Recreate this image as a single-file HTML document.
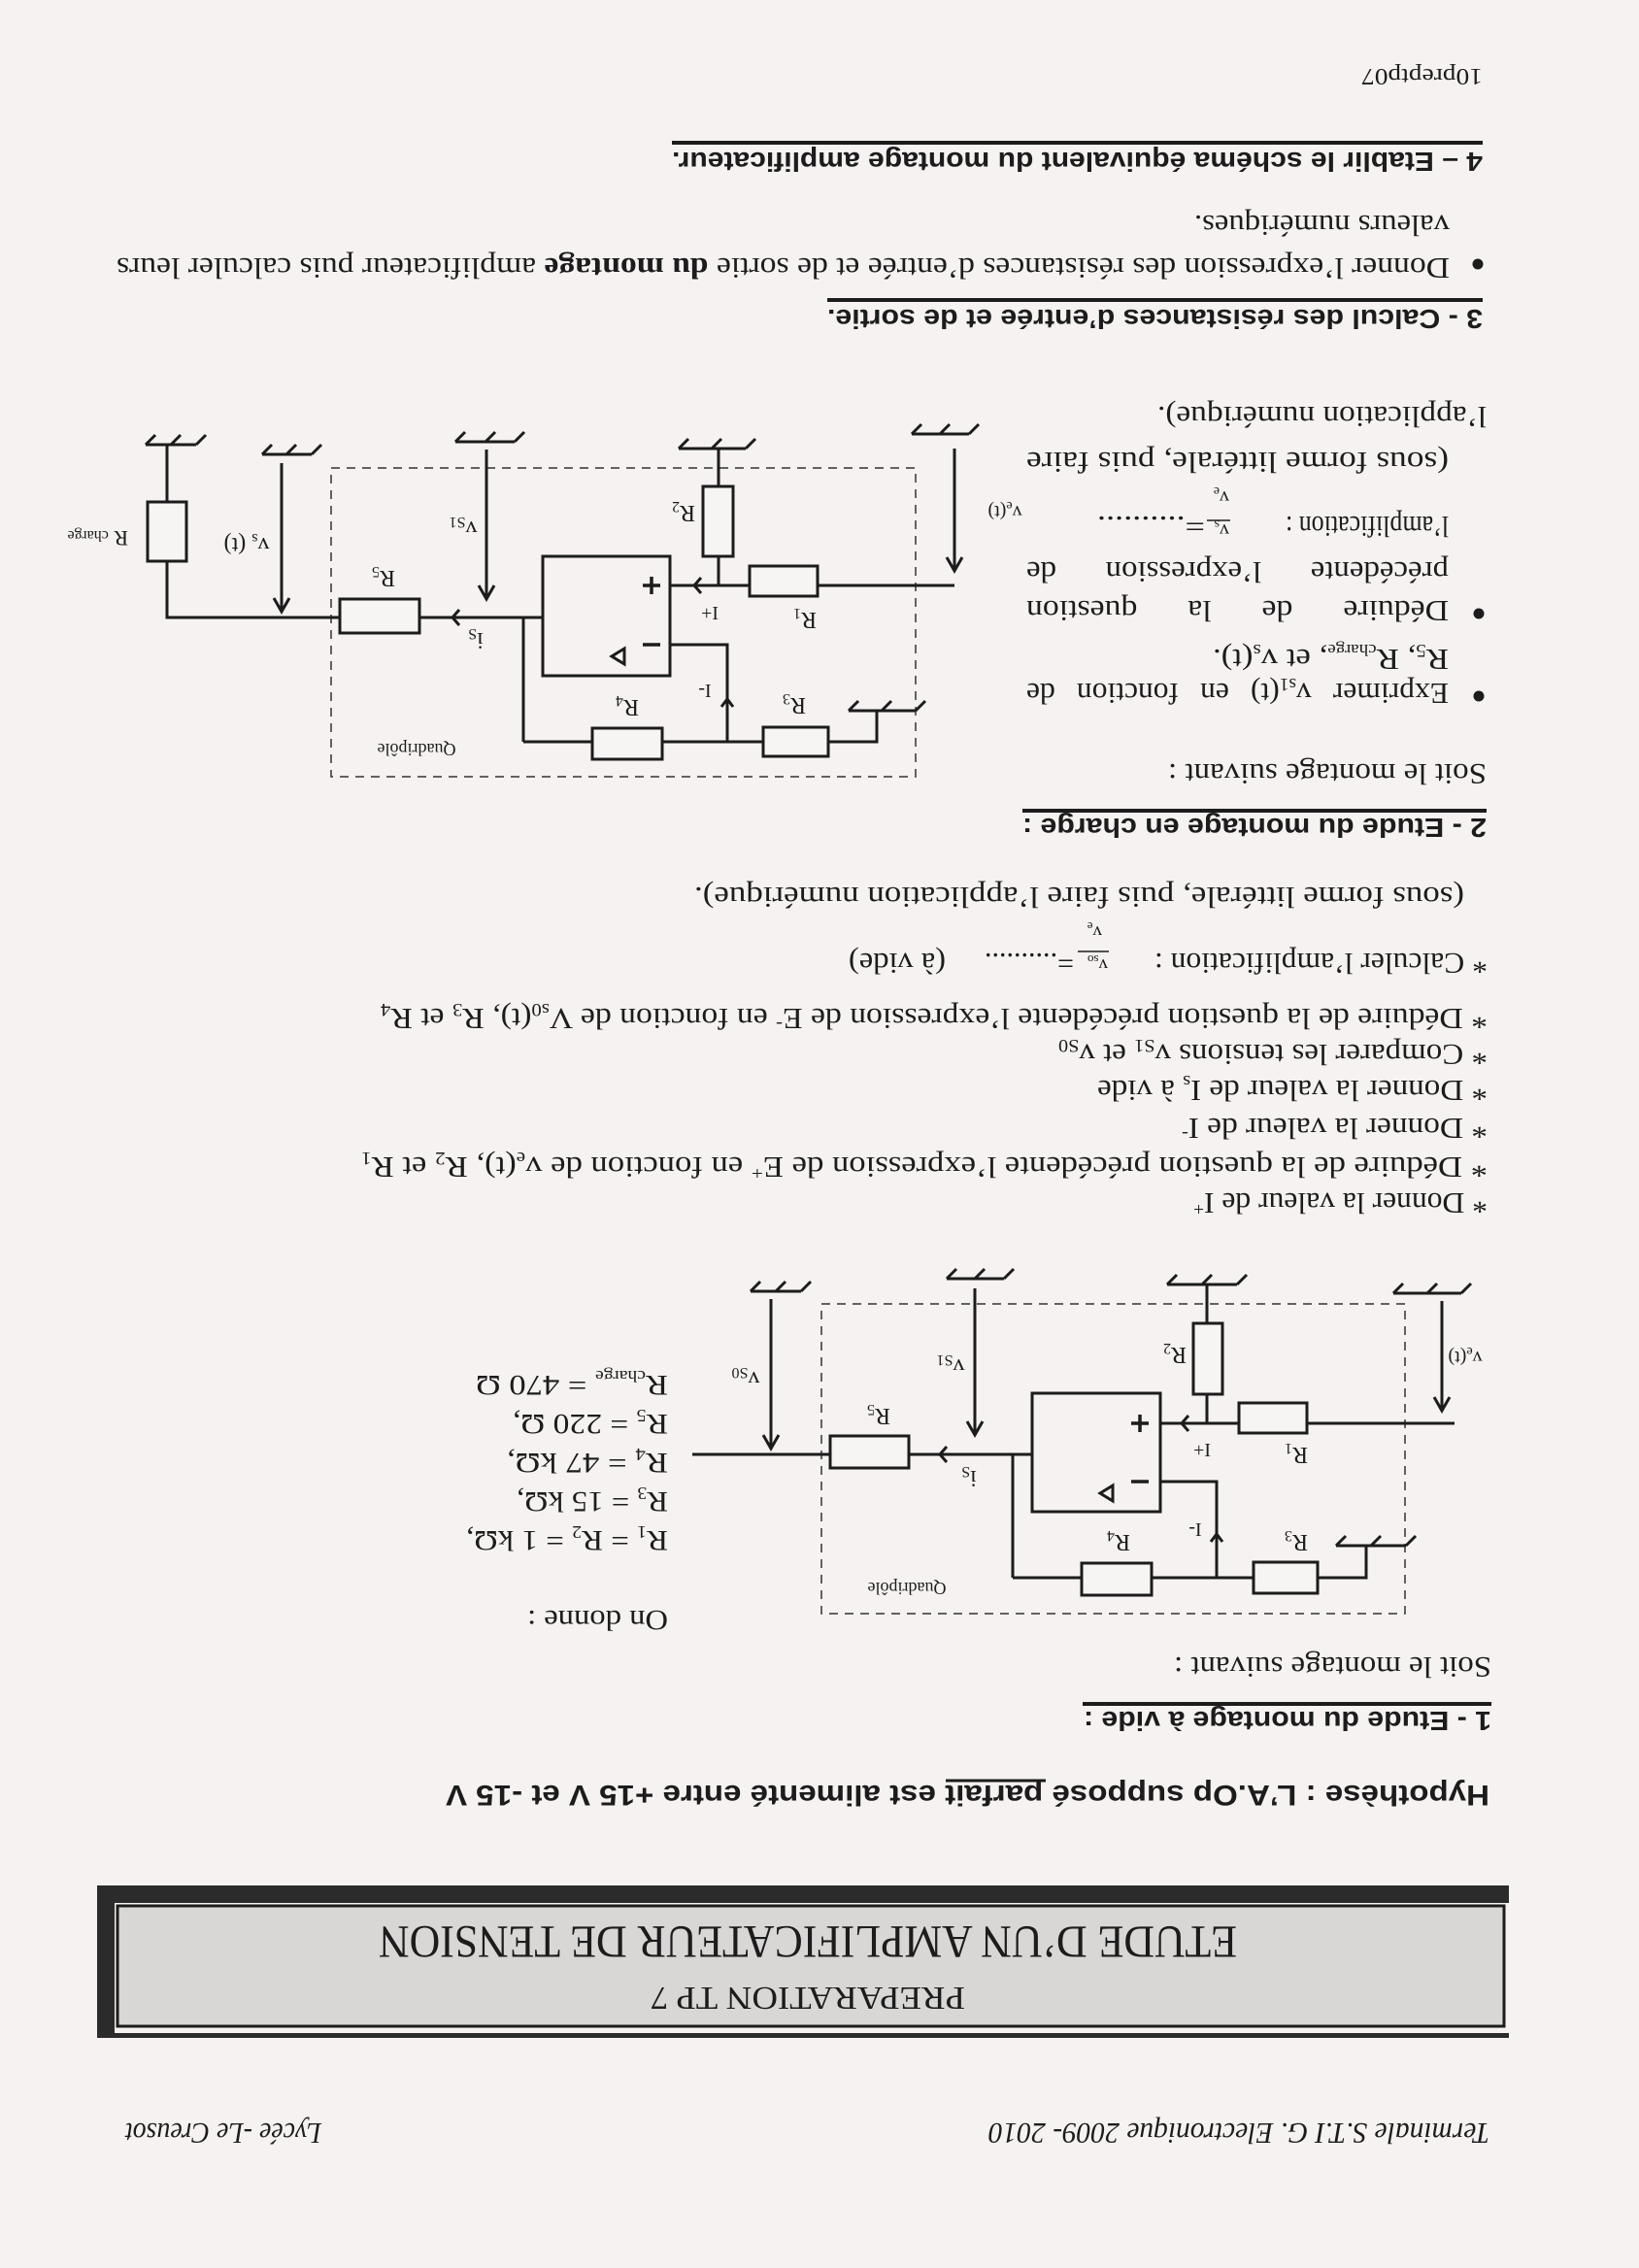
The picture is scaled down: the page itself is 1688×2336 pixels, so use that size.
<!DOCTYPE html>
<html><head><meta charset="utf-8">
<style>
html,body{margin:0;padding:0;background:#f5f2f1;}
svg{display:block}
.s{font-family:"Liberation Serif",serif;fill:#1c1c1c}
.h{font-family:"Liberation Sans",sans-serif;font-weight:bold;fill:#1c1c1c}
.i{font-family:"Liberation Serif",serif;font-style:italic;fill:#1c1c1c}
.w{stroke:#1c1c1c;stroke-width:3;fill:none}
.r{stroke:#1c1c1c;stroke-width:3;fill:#f7f5f4}
.d{stroke:#333;stroke-width:1.5;fill:none;stroke-dasharray:9 7}
</style></head><body>
<svg width="1688" height="2336" viewBox="0 0 1688 2336" xmlns="http://www.w3.org/2000/svg">
<rect width="1688" height="2336" fill="#f5f2f1"/>

<text class="s" x="1527" y="71" transform="rotate(180 1527 71)" font-size="24" textLength="125" lengthAdjust="spacingAndGlyphs">10preptp07</text>

<line x1="692" y1="147" x2="1527" y2="147" stroke="#1c1c1c" stroke-width="4"/>
<text class="h" x="1527" y="157" transform="rotate(180 1527 157)" font-size="28" textLength="835" lengthAdjust="spacingAndGlyphs">4 – Etablir le schéma équivalent du montage amplificateur.</text>

<text class="s" x="1493" y="222" transform="rotate(180 1493 222)" font-size="31" textLength="263" lengthAdjust="spacingAndGlyphs">valeurs numériques.</text>
<circle cx="1522" cy="272" r="5.5" fill="#1c1c1c"/>
<text class="s" x="1493" y="266" transform="rotate(180 1493 266)" font-size="31" textLength="1373" lengthAdjust="spacingAndGlyphs">Donner l’expression des résistances d’entrée et de sortie <tspan font-weight="bold">du montage</tspan> amplificateur puis calculer leurs</text>

<line x1="852" y1="309" x2="1527" y2="309" stroke="#1c1c1c" stroke-width="4"/>
<text class="h" x="1527" y="319" transform="rotate(180 1527 319)" font-size="28" textLength="675" lengthAdjust="spacingAndGlyphs">3 - Calcul des résistances d’entrée et de sortie.</text>

<text class="s" x="1531" y="419" transform="rotate(180 1531 419)" font-size="31" textLength="339" lengthAdjust="spacingAndGlyphs">l’application numérique).</text>
<text class="s" x="1492" y="466" transform="rotate(180 1492 466)" font-size="31" textLength="435" lengthAdjust="spacingAndGlyphs">(sous forme littérale, puis faire</text>

<text class="s" x="1492" y="532" transform="rotate(180 1492 532)" font-size="31" textLength="168" lengthAdjust="spacingAndGlyphs">l’amplification :</text>
<text class="s" x="1266" y="540" transform="rotate(180 1266 540)" font-size="20">v<tspan font-size="14" dy="4">s</tspan></text>
<line x1="1243" y1="536" x2="1267" y2="536" stroke="#1c1c1c" stroke-width="1.5"/>
<text class="s" x="1266" y="506" transform="rotate(180 1266 506)" font-size="20">v<tspan font-size="14" dy="4">e</tspan></text>
<text class="s" x="1241" y="532" transform="rotate(180 1241 532)" font-size="31" textLength="111" lengthAdjust="spacingAndGlyphs">=..........</text>

<text class="s" x="1492" y="579" transform="rotate(180 1492 579)" font-size="31" textLength="435" lengthAdjust="spacingAndGlyphs" word-spacing="40">précédente l’expression de</text>
<circle cx="1523" cy="632" r="5.5" fill="#1c1c1c"/>
<text class="s" x="1492" y="619" transform="rotate(180 1492 619)" font-size="31" textLength="435" lengthAdjust="spacingAndGlyphs" word-spacing="40">Déduire de la question</text>
<text class="s" x="1492" y="669" transform="rotate(180 1492 669)" font-size="31" textLength="243" lengthAdjust="spacingAndGlyphs">R<tspan font-size="19" dy="5">5</tspan><tspan dy="-5">, R</tspan><tspan font-size="17" dy="5">charge</tspan><tspan dy="-5">, et v</tspan><tspan font-size="19" dy="5">s</tspan><tspan dy="-5">(t).</tspan></text>
<circle cx="1523" cy="717" r="5.5" fill="#1c1c1c"/>
<text class="s" x="1492" y="704" transform="rotate(180 1492 704)" font-size="31" textLength="435" lengthAdjust="spacingAndGlyphs" word-spacing="14">Exprimer v<tspan font-size="19" dy="5">s1</tspan><tspan dy="-5">(t) en fonction de</tspan></text>

<text class="s" x="1531" y="787" transform="rotate(180 1531 787)" font-size="31" textLength="328" lengthAdjust="spacingAndGlyphs">Soit le montage suivant :</text>
<line x1="1053" y1="835" x2="1531" y2="835" stroke="#1c1c1c" stroke-width="4"/>
<text class="h" x="1531" y="843" transform="rotate(180 1531 843)" font-size="28" textLength="478" lengthAdjust="spacingAndGlyphs">2 - Etude du montage en charge :</text>

<!-- CIRCUIT 2 -->
<rect class="d" x="341" y="482" width="602" height="318"/>
<g class="w">
  <path d="M939 447 H998 M939 447 l10 -10 M968 447 l10 -10 M998 447 l10 -10"/>
  <path d="M983 462 V588 M975 574 L983 588 L991 574"/>
  <path d="M983 603 H842 M772 603 H690"/>
  <path d="M740 603 V573 M740 501 V462 M699 462 H768 M699 462 l10 -10 M733 462 l10 -10 M768 462 l10 -10"/>
  <path d="M722 595 L715 603 L722 611"/>
  <path d="M690 664 H749 V764 M743 728 L749 720 L755 728"/>
  <path d="M539 764 H610 M682 764 H786 M853 764 H903 V732 M874 732 H943 M874 732 l10 -10 M908 732 l10 -10 M943 732 l10 -10"/>
  <path d="M559 636 H432 M539 636 V764 M473 628 L466 636 L473 644"/>
  <path d="M350 636 H172 V578 M172 517 V458 M150 458 H202 M150 458 l10 -10 M176 458 l10 -10 M202 458 l10 -10"/>
  <path d="M469 455 H530 M469 455 l10 -10 M500 455 l10 -10 M530 455 l10 -10 M501 463 V617 M493 603 L501 617 L509 603"/>
  <path d="M270 468 H321 M270 468 l10 -10 M295 468 l10 -10 M321 468 l10 -10 M290 477 V630 M282 616 L290 630 L298 616"/>
</g>
<rect class="r" x="772" y="583" width="70" height="31"/>
<rect class="r" x="724" y="501" width="31" height="72"/>
<rect class="r" x="610" y="750" width="72" height="32"/>
<rect class="r" x="786" y="749" width="67" height="30"/>
<rect class="r" x="350" y="617" width="82" height="35"/>
<rect class="r" x="152" y="517" width="40" height="61"/>
<rect x="559" y="573" width="131" height="123" fill="none" stroke="#1c1c1c" stroke-width="3"/>
<path d="M662 603 H680 M671 594 V612 M662 664 H680" stroke="#1c1c1c" stroke-width="3.5"/>
<path d="M643 668 L643 684 L630 676 Z" fill="none" stroke="#1c1c1c" stroke-width="3"/>
<g class="s" font-size="24">
<text x="704" y="521" transform="rotate(180 704 521)" text-anchor="middle">R<tspan font-size="16" dy="4">2</tspan></text>
<text x="829" y="631" transform="rotate(180 829 631)" text-anchor="middle">R<tspan font-size="16" dy="4">1</tspan></text>
<text x="395" y="588" transform="rotate(180 395 588)" text-anchor="middle">R<tspan font-size="16" dy="4">5</tspan></text>
<text x="646" y="721" transform="rotate(180 646 721)" text-anchor="middle">R<tspan font-size="16" dy="4">4</tspan></text>
<text x="818" y="719" transform="rotate(180 818 719)" text-anchor="middle">R<tspan font-size="16" dy="4">3</tspan></text>
<text x="731" y="625" transform="rotate(180 731 625)" text-anchor="middle" font-size="20">I+</text>
<text x="726" y="705" transform="rotate(180 726 705)" text-anchor="middle" font-size="20">I-</text>
<text x="490" y="652" transform="rotate(180 490 652)" text-anchor="middle">i<tspan font-size="16" dy="4">S</tspan></text>
<text x="477" y="537" transform="rotate(180 477 537)" text-anchor="middle">v<tspan font-size="16" dy="4">S1</tspan></text>
<text x="254" y="554" transform="rotate(180 254 554)" text-anchor="middle">v<tspan font-size="16" dy="4">s</tspan><tspan dy="-4">  (t)</tspan></text>
<text x="1035" y="521" transform="rotate(180 1035 521)" text-anchor="middle" font-size="20">v<tspan font-size="14" dy="4">e</tspan><tspan dy="-4">(t)</tspan></text>
<text x="132" y="547" transform="rotate(180 132 547)" font-size="22">R <tspan font-size="16">charge</tspan></text>
<text x="429" y="766" transform="rotate(180 429 766)" text-anchor="middle" font-size="18">Quadripôle</text>
</g>

<!-- MIDDLE TEXT -->
<text class="s" x="1508" y="914" transform="rotate(180 1508 914)" font-size="31" textLength="793" lengthAdjust="spacingAndGlyphs">(sous forme littérale, puis faire l’application numérique).</text>
<text class="s" x="1532" y="982" transform="rotate(180 1532 982)" font-size="31" textLength="343" lengthAdjust="spacingAndGlyphs">* Calculer l’amplification :</text>
<text class="s" x="1141" y="988" transform="rotate(180 1141 988)" font-size="19">v<tspan font-size="13" dy="4">so</tspan></text>
<line x1="1110" y1="980" x2="1142" y2="980" stroke="#1c1c1c" stroke-width="1.5"/>
<text class="s" x="1135" y="954" transform="rotate(180 1135 954)" font-size="19">v<tspan font-size="13" dy="4">e</tspan></text>
<text class="s" x="1106" y="982" transform="rotate(180 1106 982)" font-size="31" textLength="92" lengthAdjust="spacingAndGlyphs">=..........</text>
<text class="s" x="974" y="982" transform="rotate(180 974 982)" font-size="31" textLength="100" lengthAdjust="spacingAndGlyphs">(à vide)</text>
<text class="s" x="1532" y="1039" transform="rotate(180 1532 1039)" font-size="31" textLength="1140" lengthAdjust="spacingAndGlyphs">* Déduire de la question précédente l’expression de E<tspan font-size="19" dy="-10">-</tspan><tspan dy="10"> en fonction de V</tspan><tspan font-size="19" dy="5">s0</tspan><tspan dy="-5">(t), R</tspan><tspan font-size="19" dy="5">3</tspan><tspan dy="-5"> et  R</tspan><tspan font-size="19" dy="5">4</tspan></text>
<text class="s" x="1532" y="1076" transform="rotate(180 1532 1076)" font-size="31" textLength="442" lengthAdjust="spacingAndGlyphs">* Comparer les tensions v<tspan font-size="19" dy="5">S1</tspan><tspan dy="-5"> et v</tspan><tspan font-size="19" dy="5">S0</tspan></text>
<text class="s" x="1532" y="1113" transform="rotate(180 1532 1113)" font-size="31" textLength="402" lengthAdjust="spacingAndGlyphs">* Donner la valeur de I<tspan font-size="19" dy="5">s</tspan><tspan dy="-5"> à vide</tspan></text>
<text class="s" x="1532" y="1152" transform="rotate(180 1532 1152)" font-size="31" textLength="315" lengthAdjust="spacingAndGlyphs">* Donner la valeur de I<tspan font-size="19" dy="-10">-</tspan></text>
<text class="s" x="1532" y="1192" transform="rotate(180 1532 1192)" font-size="31" textLength="1160" lengthAdjust="spacingAndGlyphs">* Déduire de la question précédente l’expression de E<tspan font-size="19" dy="-10">+</tspan><tspan dy="10"> en fonction de v</tspan><tspan font-size="19" dy="5">e</tspan><tspan dy="-5">(t),   R</tspan><tspan font-size="19" dy="5">2</tspan><tspan dy="-5">   et  R</tspan><tspan font-size="19" dy="5">1</tspan></text>
<text class="s" x="1532" y="1229" transform="rotate(180 1532 1229)" font-size="31" textLength="303" lengthAdjust="spacingAndGlyphs">* Donner la valeur de I<tspan font-size="19" dy="-10">+</tspan></text>

<!-- CIRCUIT 1 -->
<rect class="d" x="846" y="1343" width="601" height="319"/>
<g class="w">
  <path d="M1435 1332 H1505 M1435 1332 l10 -10 M1470 1332 l10 -10 M1505 1332 l10 -10"/>
  <path d="M1485 1340 V1453 M1477 1439 L1485 1453 L1493 1439"/>
  <path d="M1498 1466 H1346 M1276 1466 H1195"/>
  <path d="M1243 1466 V1436 M1243 1363 V1323 M1202 1323 H1274 M1202 1323 l10 -10 M1238 1323 l10 -10 M1274 1323 l10 -10"/>
  <path d="M1224 1458 L1217 1466 L1224 1474"/>
  <path d="M1195 1526 H1253 V1625 M1247 1588 L1253 1580 L1259 1588"/>
  <path d="M1043 1625 H1114 M1186 1625 H1291 M1357 1625 H1407 V1592 M1376 1592 H1448 M1376 1592 l10 -10 M1412 1592 l10 -10 M1448 1592 l10 -10"/>
  <path d="M1063 1498 H936 M1043 1498 V1625 M975 1490 L968 1498 L975 1506"/>
  <path d="M855 1498 H713"/>
  <path d="M975 1317 H1034 M975 1317 l10 -10 M1004 1317 l10 -10 M1034 1317 l10 -10 M1004 1327 V1478 M996 1464 L1004 1478 L1012 1464"/>
  <path d="M773 1330 H825 M773 1330 l10 -10 M799 1330 l10 -10 M825 1330 l10 -10 M794 1338 V1492 M786 1478 L794 1492 L802 1478"/>
</g>
<rect class="r" x="1276" y="1445" width="70" height="31"/>
<rect class="r" x="1229" y="1363" width="30" height="73"/>
<rect class="r" x="1114" y="1610" width="72" height="33"/>
<rect class="r" x="1291" y="1609" width="66" height="32"/>
<rect class="r" x="855" y="1479" width="81" height="33"/>
<rect x="1063" y="1435" width="132" height="122" fill="none" stroke="#1c1c1c" stroke-width="3"/>
<path d="M1165 1466 H1183 M1174 1457 V1475 M1165 1526 H1183" stroke="#1c1c1c" stroke-width="3.5"/>
<path d="M1146 1530 L1146 1546 L1133 1538 Z" fill="none" stroke="#1c1c1c" stroke-width="3"/>
<g class="s" font-size="24">
<text x="1210" y="1388" transform="rotate(180 1210 1388)" text-anchor="middle">R<tspan font-size="16" dy="4">2</tspan></text>
<text x="1335" y="1491" transform="rotate(180 1335 1491)" text-anchor="middle">R<tspan font-size="16" dy="4">1</tspan></text>
<text x="905" y="1451" transform="rotate(180 905 1451)" text-anchor="middle">R<tspan font-size="16" dy="4">5</tspan></text>
<text x="1152" y="1581" transform="rotate(180 1152 1581)" text-anchor="middle">R<tspan font-size="16" dy="4">4</tspan></text>
<text x="1335" y="1581" transform="rotate(180 1335 1581)" text-anchor="middle">R<tspan font-size="16" dy="4">3</tspan></text>
<text x="1238" y="1487" transform="rotate(180 1238 1487)" text-anchor="middle" font-size="20">I+</text>
<text x="1231" y="1569" transform="rotate(180 1231 1569)" text-anchor="middle" font-size="20">I-</text>
<text x="998" y="1515" transform="rotate(180 998 1515)" text-anchor="middle">i<tspan font-size="16" dy="4">S</tspan></text>
<text x="979" y="1400" transform="rotate(180 979 1400)" text-anchor="middle">v<tspan font-size="16" dy="4">S1</tspan></text>
<text x="768" y="1413" transform="rotate(180 768 1413)" text-anchor="middle">v<tspan font-size="16" dy="4">S0</tspan></text>
<text x="1509" y="1392" transform="rotate(180 1509 1392)" text-anchor="middle" font-size="20">v<tspan font-size="14" dy="4">e</tspan><tspan dy="-4">(t)</tspan></text>
<text x="934" y="1630" transform="rotate(180 934 1630)" text-anchor="middle" font-size="18">Quadripôle</text>
</g>

<g class="s" font-size="30">
<text x="688" y="1417" transform="rotate(180 688 1417)" textLength="198" lengthAdjust="spacingAndGlyphs">R<tspan font-size="17" dy="5">charge</tspan><tspan dy="-5"> = 470 Ω</tspan></text>
<text x="688" y="1457" transform="rotate(180 688 1457)" textLength="160" lengthAdjust="spacingAndGlyphs">R<tspan font-size="18" dy="5">5</tspan><tspan dy="-5"> = 220 Ω,</tspan></text>
<text x="688" y="1497" transform="rotate(180 688 1497)" textLength="166" lengthAdjust="spacingAndGlyphs">R<tspan font-size="18" dy="5">4</tspan><tspan dy="-5"> = 47  kΩ,</tspan></text>
<text x="688" y="1537" transform="rotate(180 688 1537)" textLength="156" lengthAdjust="spacingAndGlyphs">R<tspan font-size="18" dy="5">3</tspan><tspan dy="-5"> = 15 kΩ,</tspan></text>
<text x="688" y="1577" transform="rotate(180 688 1577)" textLength="208" lengthAdjust="spacingAndGlyphs">R<tspan font-size="18" dy="5">1</tspan><tspan dy="-5"> = R</tspan><tspan font-size="18" dy="5">2</tspan><tspan dy="-5"> = 1 kΩ,</tspan></text>
<text x="688" y="1659" transform="rotate(180 688 1659)" textLength="145" lengthAdjust="spacingAndGlyphs">On donne :</text>
</g>

<text class="s" x="1536" y="1707" transform="rotate(180 1536 1707)" font-size="31" textLength="327" lengthAdjust="spacingAndGlyphs">Soit le montage suivant :</text>
<line x1="1115" y1="1755" x2="1536" y2="1755" stroke="#1c1c1c" stroke-width="4"/>
<text class="h" x="1536" y="1763" transform="rotate(180 1536 1763)" font-size="28" textLength="420" lengthAdjust="spacingAndGlyphs">1 - Etude du montage à vide :</text>

<line x1="974" y1="1834" x2="1077" y2="1834" stroke="#1c1c1c" stroke-width="3"/>
<text class="h" x="1534" y="1839" transform="rotate(180 1534 1839)" font-size="30" textLength="1075" lengthAdjust="spacingAndGlyphs">Hypothèse : L’A.Op supposé parfait est alimenté entre +15 V et -15 V</text>

<rect x="100" y="1942" width="1454" height="157" fill="#2b2b2b"/>
<rect x="118" y="1960" width="1436" height="134" fill="#f5f2f1"/>
<rect x="121" y="1963" width="1428" height="124" fill="#d9d7d6" stroke="#1c1c1c" stroke-width="3"/>
<text class="s" x="1274" y="1984" transform="rotate(180 1274 1984)" font-size="48" textLength="884" lengthAdjust="spacingAndGlyphs">ETUDE D’UN AMPLIFICATEUR DE TENSION</text>
<text class="s" x="994" y="2047" transform="rotate(180 994 2047)" font-size="34" textLength="324" lengthAdjust="spacingAndGlyphs">PREPARATION  TP 7</text>

<text class="i" x="1534" y="2187" transform="rotate(180 1534 2187)" font-size="31" textLength="516" lengthAdjust="spacingAndGlyphs">Terminale S.T.I G. Electronique  2009- 2010</text>
<text class="i" x="331" y="2187" transform="rotate(180 331 2187)" font-size="31" textLength="202" lengthAdjust="spacingAndGlyphs">Lycée -Le Creusot</text>
</svg>
</body></html>
